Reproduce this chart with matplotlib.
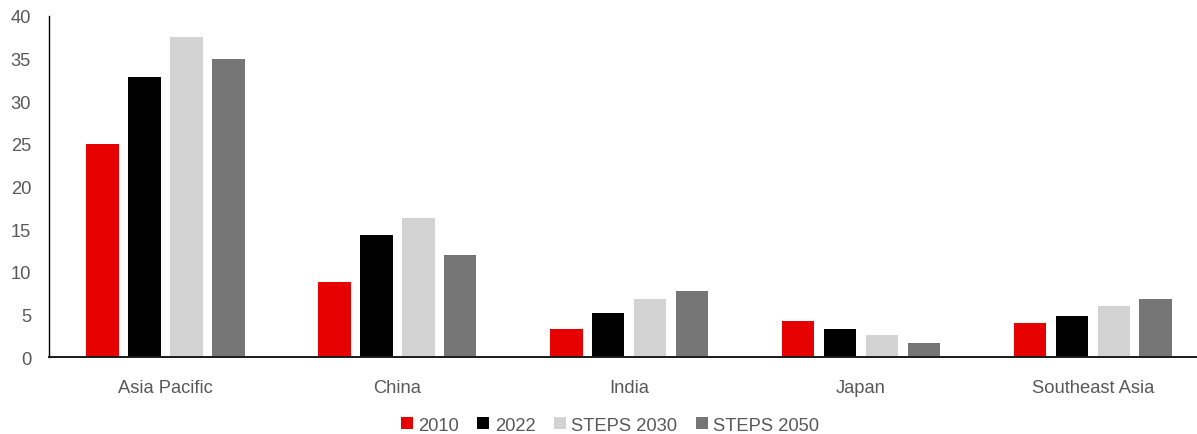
import matplotlib
matplotlib.use("Agg")
import matplotlib.pyplot as plt
import numpy as np

categories = ["Asia Pacific", "China", "India", "Japan", "Southeast Asia"]
series_names = ["2010", "2022", "STEPS 2030", "STEPS 2050"]
v2010 = [25.0, 8.8, 3.3, 4.2, 4.0]
v2022 = [32.8, 14.35, 5.2, 3.25, 4.8]
v2030 = [37.5, 16.35, 6.8, 2.55, 6.0]
v2050 = [35.0, 12.0, 7.75, 1.65, 6.85]
colors = ["#E60000", "#000000", "#D3D3D3", "#767676"]

plt.rcParams['font.family'] = ['Liberation Sans', 'DejaVu Sans']

fig = plt.figure(figsize=(11.97, 4.35), dpi=100)
ax = fig.add_axes([0.041, 0.177, 0.969, 0.784])

x = np.arange(len(categories))
width = 0.142
step = 0.181
all_vals = [v2010, v2022, v2030, v2050]
for i, (vals, name, c) in enumerate(zip(all_vals, series_names, colors)):
    offs = (i - 1.5) * step
    ax.bar(x + offs, vals, width, color=c, label=name, zorder=2)

ax.set_xlim(-0.5, 4.5)
ax.set_ylim(0, 40)
ax.set_yticks(range(0, 41, 5))
ax.set_xticks(x)
ax.set_xticklabels(categories)
ax.tick_params(axis='both', length=0, labelsize=13.2, colors='#595959')
ax.tick_params(axis='x', pad=15.5)
ax.tick_params(axis='y', pad=13)
for s in ['top', 'right']:
    ax.spines[s].set_visible(False)
ax.spines['left'].set_color('#000000')
ax.spines['left'].set_linewidth(1.0)
ax.spines['bottom'].set_color('#1a1a1a')
ax.spines['bottom'].set_linewidth(1.4)

leg = ax.legend(loc='center', bbox_to_anchor=(0.4836, -0.2), ncol=4,
                frameon=False, fontsize=13.2, handlelength=0.65, handleheight=0.65,
                handletextpad=0.3, columnspacing=1.0, borderaxespad=0)
for t in leg.get_texts():
    t.set_color('#595959')

fig.savefig("out.png", dpi=100)
